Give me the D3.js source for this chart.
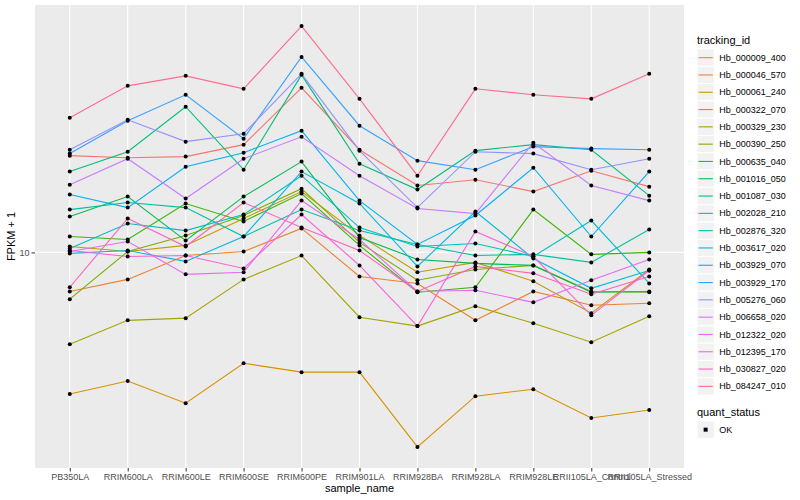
<!DOCTYPE html>
<html>
<head>
<meta charset="utf-8">
<script src="https://cdn.jsdelivr.net/npm/d3@7"></script>
<style>
  body { margin: 0; background: #fff; }
  text { font-family: "Liberation Sans", Arial, Helvetica, sans-serif; }
</style>
</head>
<body>
<div id="chart"></div>
<script>
// samples on the x axis
const samples = ["PB350LA", "RRIM600LA", "RRIM600LE", "RRIM600SE", "RRIM600PE", "RRIM901LA",
  "RRIM928BA", "RRIM928LA", "RRIM928LE", "RRII105LA_Control", "RRII105LA_Stressed"];

// FPKM + 1, one array per gene, in sample order
const hb_000009_400 = [15.01, 14.88, 14.95, 15.72, 19.95, 15.39, 13.24, 13.57, 12.91, 14.09, 13.18];
const hb_000046_570 = [8.49, 8.93, 9.87, 10.04, 11.06, 9.04, 8.78, 7.52, 8.49, 8.01, 8.08];
const hb_000061_240 = [5.52, 5.83, 5.31, 6.28, 6.05, 6.05, 4.42, 5.47, 5.63, 4.99, 5.16];
const hb_000322_070 = [10.25, 10.04, 10.30, 11.53, 12.91, 10.74, 9.20, 9.59, 8.86, 7.75, 9.31];
const hb_000329_230 = [6.80, 7.52, 7.59, 8.93, 9.87, 7.62, 7.34, 7.98, 7.43, 6.86, 7.65];
const hb_000390_250 = [8.22, 10.04, 10.74, 11.68, 13.07, 10.43, 8.90, 9.31, 9.47, 8.49, 8.46];
const hb_000635_040 = [10.69, 10.56, 12.28, 11.39, 12.80, 10.30, 8.46, 8.64, 11.97, 9.92, 10.00];
const hb_001016_050 = [11.63, 12.64, 10.51, 12.64, 14.64, 10.65, 9.71, 9.55, 9.47, 8.46, 8.49];
const hb_001087_030 = [14.04, 15.26, 18.43, 14.15, 21.07, 14.51, 13.02, 15.33, 15.72, 15.39, 12.69];
const hb_002028_210 = [11.97, 12.33, 12.07, 10.69, 11.97, 10.96, 10.34, 9.87, 9.92, 9.59, 11.01];
const hb_002876_320 = [10.17, 11.29, 10.96, 11.72, 13.80, 11.10, 10.25, 10.38, 9.83, 11.43, 8.78];
const hb_003617_020 = [9.96, 10.08, 9.63, 10.69, 14.04, 12.28, 9.43, 11.87, 9.75, 8.60, 9.27];
const hb_003929_070 = [12.75, 12.07, 14.33, 15.20, 16.67, 12.43, 10.34, 11.68, 14.27, 10.69, 14.04];
const hb_003929_170 = [15.14, 17.38, 19.38, 16.12, 22.72, 17.02, 14.70, 14.15, 15.59, 15.46, 15.39];
const hb_005276_060 = [15.39, 17.45, 15.92, 16.46, 21.16, 15.33, 12.07, 15.26, 15.14, 14.15, 14.82];
const hb_006658_020 = [13.29, 14.82, 12.54, 14.82, 16.25, 13.80, 12.02, 11.77, 15.85, 13.24, 12.43];
const hb_012322_020 = [10.04, 10.47, 9.12, 9.20, 12.43, 10.56, 8.49, 8.53, 8.11, 8.90, 9.71];
const hb_012395_170 = [10.08, 9.83, 9.87, 9.35, 11.72, 9.47, 7.34, 10.92, 9.83, 7.68, 9.27];
const hb_030827_020 = [8.64, 11.53, 10.25, 12.33, 11.10, 10.08, 8.49, 9.43, 9.16, 8.39, 9.04];
const hb_084247_010 = [17.60, 20.12, 20.98, 19.87, 25.86, 19.05, 13.80, 19.87, 19.38, 19.05, 21.16];

const trackingIds = ["Hb_000009_400", "Hb_000046_570", "Hb_000061_240", "Hb_000322_070", "Hb_000329_230",
  "Hb_000390_250", "Hb_000635_040", "Hb_001016_050", "Hb_001087_030", "Hb_002028_210",
  "Hb_002876_320", "Hb_003617_020", "Hb_003929_070", "Hb_003929_170", "Hb_005276_060",
  "Hb_006658_020", "Hb_012322_020", "Hb_012395_170", "Hb_030827_020", "Hb_084247_010"];
const seriesValues = [hb_000009_400, hb_000046_570, hb_000061_240, hb_000322_070, hb_000329_230,
  hb_000390_250, hb_000635_040, hb_001016_050, hb_001087_030, hb_002028_210,
  hb_002876_320, hb_003617_020, hb_003929_070, hb_003929_170, hb_005276_060,
  hb_006658_020, hb_012322_020, hb_012395_170, hb_030827_020, hb_084247_010];
const yTicks = [10];
const quantStatus = ["OK"];

const series = trackingIds.map((id, i) => ({
  id,
  values: seriesValues[i].map((v, j) => ({ sample: samples[j], value: v }))
}));

// ggplot2 default hue palette for 20 levels
const palette = ["#F8766D", "#EA8331", "#D89000", "#C09B00", "#A3A500", "#7CAE00", "#39B600",
  "#00BB4E", "#00BF7D", "#00C1A3", "#00BFC4", "#00BAE0", "#00B0F6", "#35A2FF", "#9590FF",
  "#C77CFF", "#E76BF3", "#FA62DB", "#FF62BC", "#FF6C91"];
const color = d3.scaleOrdinal().domain(trackingIds).range(palette);

const W = 800, H = 500;
const panel = { left: 35, right: 684, top: 5, bottom: 468 };

const svg = d3.select("#chart").append("svg")
  .attr("width", W)
  .attr("height", H);

svg.append("rect").attr("width", W).attr("height", H).attr("fill", "#fff");

const x = d3.scalePoint()
  .domain(samples)
  .range([panel.left, panel.right])
  .padding(0.6);

const allVals = seriesValues.flat();
const [lo, hi] = d3.extent(allVals).map(Math.log10);
const pad = (hi - lo) * 0.05;
const y = d3.scaleLog()
  .domain([Math.pow(10, lo - pad), Math.pow(10, hi + pad)])
  .range([panel.bottom, panel.top]);

// panel + grid
svg.append("rect")
  .attr("x", panel.left).attr("y", panel.top)
  .attr("width", panel.right - panel.left)
  .attr("height", panel.bottom - panel.top)
  .attr("fill", "#EBEBEB");

svg.append("g").selectAll("line")
  .data(samples)
  .join("line")
  .attr("x1", d => x(d)).attr("x2", d => x(d))
  .attr("y1", panel.top).attr("y2", panel.bottom)
  .attr("stroke", "#fff").attr("stroke-width", 1.1);

svg.append("g").selectAll("line")
  .data(yTicks)
  .join("line")
  .attr("x1", panel.left).attr("x2", panel.right)
  .attr("y1", d => y(d)).attr("y2", d => y(d))
  .attr("stroke", "#fff").attr("stroke-width", 1.1);

// lines
const line = d3.line()
  .x(d => x(d.sample))
  .y(d => y(d.value));

svg.append("g").selectAll("path")
  .data(series)
  .join("path")
  .attr("d", d => line(d.values))
  .attr("fill", "none")
  .attr("stroke", d => color(d.id))
  .attr("stroke-width", 1.1);

// points
svg.append("g").selectAll("circle")
  .data(series.flatMap(s => s.values))
  .join("circle")
  .attr("cx", d => x(d.sample))
  .attr("cy", d => y(d.value))
  .attr("r", 2)
  .attr("fill", "#000");

// axes
const xAxis = d3.axisBottom(x).tickSize(3.5).tickPadding(2);
const gx = svg.append("g")
  .attr("transform", `translate(0,${panel.bottom})`)
  .call(xAxis);
gx.select(".domain").remove();
gx.selectAll(".tick line").attr("stroke", "#333");
gx.selectAll(".tick text").attr("fill", "#4D4D4D").attr("font-size", "9px");

const yAxis = d3.axisLeft(y).tickValues(yTicks).tickFormat(d3.format("d")).tickSize(3.5).tickPadding(2);
const gy = svg.append("g")
  .attr("transform", `translate(${panel.left},0)`)
  .call(yAxis);
gy.select(".domain").remove();
gy.selectAll(".tick line").attr("stroke", "#333");
gy.selectAll(".tick text").attr("fill", "#4D4D4D").attr("font-size", "9px");

svg.append("text")
  .attr("x", (panel.left + panel.right) / 2)
  .attr("y", 492)
  .attr("text-anchor", "middle")
  .attr("font-size", "11px")
  .text("sample_name");

svg.append("text")
  .attr("transform", `translate(15,${(panel.top + panel.bottom) / 2}) rotate(-90)`)
  .attr("text-anchor", "middle")
  .attr("font-size", "11px")
  .text("FPKM + 1");

// legend
const lg = svg.append("g").attr("transform", "translate(697,0)");
const keySize = 17.3;
lg.append("text").attr("x", 0).attr("y", 44).attr("font-size", "11px").text("tracking_id");

const items = lg.selectAll("g.item")
  .data(trackingIds)
  .join("g")
  .attr("class", "item")
  .attr("transform", (d, i) => `translate(0,${49 + i * keySize})`);
items.append("rect")
  .attr("width", keySize).attr("height", keySize)
  .attr("fill", "#F2F2F2").attr("stroke", "#fff").attr("stroke-width", 1);
items.append("line")
  .attr("x1", 1.5).attr("x2", keySize - 1.5)
  .attr("y1", keySize / 2).attr("y2", keySize / 2)
  .attr("stroke", d => color(d)).attr("stroke-width", 1.1);
items.append("text")
  .attr("x", keySize + 5).attr("y", keySize / 2)
  .attr("dy", "0.35em")
  .attr("font-size", "9px")
  .text(d => d);

lg.append("text").attr("x", 0).attr("y", 416).attr("font-size", "11px").text("quant_status");
const qs = lg.selectAll("g.qs")
  .data(quantStatus)
  .join("g")
  .attr("class", "qs")
  .attr("transform", (d, i) => `translate(0,${421 + i * keySize})`);
qs.append("rect")
  .attr("width", keySize).attr("height", keySize)
  .attr("fill", "#F2F2F2").attr("stroke", "#fff");
qs.append("rect")
  .attr("x", keySize / 2 - 2).attr("y", keySize / 2 - 2)
  .attr("width", 4).attr("height", 4).attr("fill", "#000");
qs.append("text")
  .attr("x", keySize + 5).attr("y", keySize / 2)
  .attr("dy", "0.35em")
  .attr("font-size", "9px")
  .text(d => d);
</script>
</body>
</html>
